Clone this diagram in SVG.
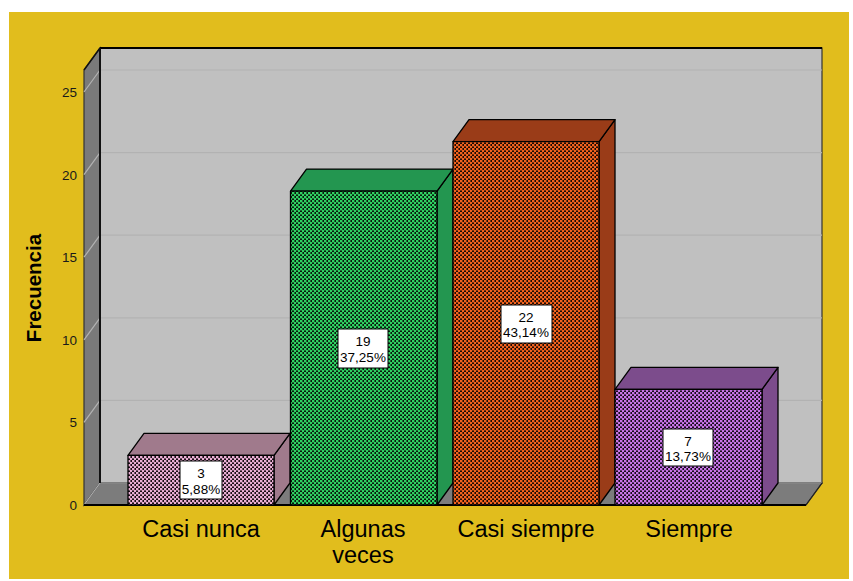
<svg xmlns="http://www.w3.org/2000/svg" width="853" height="581" viewBox="0 0 853 581">
<defs>
<pattern id="pPink" width="4" height="4" patternUnits="userSpaceOnUse">
<rect width="4" height="4" fill="#1a1016"/>
<rect x="0" y="0" width="2.4" height="2.4" fill="#eaaed4"/>
<rect x="2" y="2" width="2.4" height="2.4" fill="#eaaed4"/>
</pattern>
<pattern id="pGreen" width="4" height="4" patternUnits="userSpaceOnUse">
<rect width="4" height="4" fill="#0a1a0e"/>
<rect x="0" y="0" width="2.4" height="2.4" fill="#2fd262"/>
<rect x="2" y="2" width="2.4" height="2.4" fill="#2fd262"/>
</pattern>
<pattern id="pOrange" width="4" height="4" patternUnits="userSpaceOnUse">
<rect width="4" height="4" fill="#1c0c04"/>
<rect x="0" y="0" width="2.4" height="2.4" fill="#f2621e"/>
<rect x="2" y="2" width="2.4" height="2.4" fill="#f2621e"/>
</pattern>
<pattern id="pPurple" width="4" height="4" patternUnits="userSpaceOnUse">
<rect width="4" height="4" fill="#160c1c"/>
<rect x="0" y="0" width="2.4" height="2.4" fill="#c874e6"/>
<rect x="2" y="2" width="2.4" height="2.4" fill="#c874e6"/>
</pattern>
</defs>
<style>
.tick{font-family:"Liberation Sans",Arial,sans-serif;font-size:13.5px;fill:#1a1a1a;text-anchor:end}
.cat{font-family:"Liberation Sans",Arial,sans-serif;font-size:23.5px;fill:#000;text-anchor:middle}
.ttl{font-family:"Liberation Sans",Arial,sans-serif;font-size:20.5px;font-weight:bold;fill:#000;text-anchor:middle}
.val{font-family:"Liberation Sans",Arial,sans-serif;font-size:13.5px;fill:#000;text-anchor:middle}
.box{fill:#fff;stroke:#000;stroke-width:1}
.grid{stroke:#b2b2b2;stroke-width:1.2;fill:none}
.face{stroke:#000;stroke-width:1.3;stroke-linejoin:round}
</style>
<rect x="0" y="0" width="853" height="581" fill="#fff"/>
<rect x="9" y="12" width="840" height="567" fill="#e1bd1d"/>
<g id="axes">
<rect x="100" y="48" width="722" height="435" fill="#c0c0c0" stroke="#333" stroke-width="1.2"/>
<polygon points="84,70 100,48 100,483 84,505" fill="#7a7a7a" stroke="#333" stroke-width="1.2"/>
<polygon points="84,505 100,483 822,483 806,505" fill="#7c7c7c" stroke="#333" stroke-width="1.2"/>
<g class="grid">
<polyline points="84,505 100,483 822,483"/>
<polyline points="84,422.4 100,400.4 822,400.4"/>
<polyline points="84,339.8 100,317.8 822,317.8"/>
<polyline points="84,257.2 100,235.2 822,235.2"/>
<polyline points="84,174.6 100,152.6 822,152.6"/>
<polyline points="84,92 100,70 822,70"/>
</g>
<line x1="100" y1="48" x2="822" y2="48" stroke="#000" stroke-width="2"/>
<line x1="100" y1="48" x2="100" y2="483" stroke="#111" stroke-width="2"/>
<line x1="84" y1="70" x2="100" y2="48" stroke="#111" stroke-width="1.5"/>
<line x1="84" y1="505" x2="806" y2="505" stroke="#000" stroke-width="2"/>
<line x1="806" y1="505" x2="822" y2="483" stroke="#222" stroke-width="1.2"/>
<text class="tick" x="77" y="510">0</text>
<text class="tick" x="77" y="427.4">5</text>
<text class="tick" x="77" y="344.8">10</text>
<text class="tick" x="77" y="262.2">15</text>
<text class="tick" x="77" y="179.6">20</text>
<text class="tick" x="77" y="97">25</text>
<text class="ttl" transform="translate(41,288) rotate(-90)">Frecuencia</text>
</g>
<g id="bar-casi-nunca">
<polygon class="face" points="274,455.4 290,433.4 290,483 274,505" fill="#a07a8c"/>
<polygon class="face" points="128,455.4 144,433.4 290,433.4 274,455.4" fill="#a07a8c"/>
<rect class="face" x="128" y="455.4" width="146" height="49.6" fill="url(#pPink)"/>
<rect class="box" x="180" y="461" width="42" height="38"/>
<text class="val" x="201" y="477.5">3</text>
<text class="val" x="201" y="493.5">5,88%</text>
<text class="cat" x="201" y="537">Casi nunca</text>
</g>
<g id="bar-algunas-veces">
<polygon class="face" points="437,191.1 453,169.1 453,483 437,505" fill="#239650"/>
<polygon class="face" points="290.5,191.1 306.5,169.1 453,169.1 437,191.1" fill="#239650"/>
<rect class="face" x="290.5" y="191.1" width="146.5" height="313.9" fill="url(#pGreen)"/>
<rect class="box" x="338" y="329" width="50" height="39"/>
<text class="val" x="363" y="346">19</text>
<text class="val" x="363" y="362">37,25%</text>
<text class="cat" x="363" y="537">Algunas</text>
<text class="cat" x="363" y="563">veces</text>
</g>
<g id="bar-casi-siempre">
<polygon class="face" points="599,141.6 615,119.6 615,483 599,505" fill="#9a3c18"/>
<polygon class="face" points="453,141.6 469,119.6 615,119.6 599,141.6" fill="#9a3c18"/>
<rect class="face" x="453" y="141.6" width="146" height="363.4" fill="url(#pOrange)"/>
<rect class="box" x="501" y="305" width="51" height="38"/>
<text class="val" x="526" y="321.5">22</text>
<text class="val" x="526" y="337">43,14%</text>
<text class="cat" x="526" y="537">Casi siempre</text>
</g>
<g id="bar-siempre">
<polygon class="face" points="762,389.4 778,367.4 778,483 762,505" fill="#7c4c8c"/>
<polygon class="face" points="615,389.4 631,367.4 778,367.4 762,389.4" fill="#7c4c8c"/>
<rect class="face" x="615" y="389.4" width="147" height="115.6" fill="url(#pPurple)"/>
<rect class="box" x="663" y="429" width="50" height="37"/>
<text class="val" x="688" y="445.5">7</text>
<text class="val" x="688" y="461">13,73%</text>
<text class="cat" x="689" y="537">Siempre</text>
</g>
<g id="connectors"></g>
</svg>
